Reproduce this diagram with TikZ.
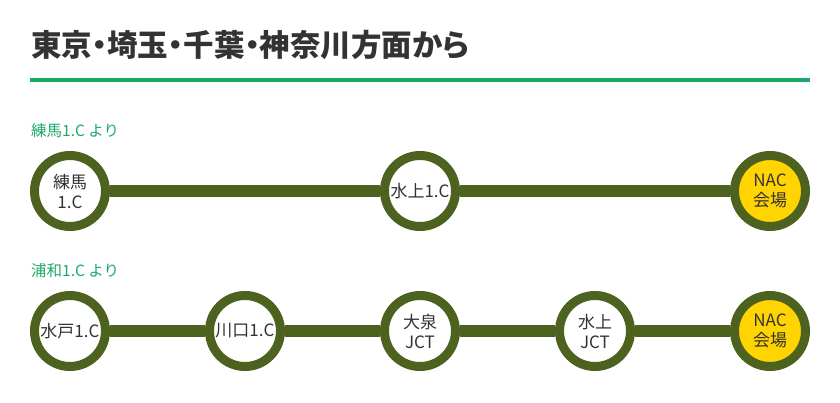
\documentclass[tikz,border=0pt]{standalone}
\usepackage{fontspec}
\setmainfont{Noto Sans CJK JP}
\newfontfamily\headfont{Noto Sans CJK JP}[RawFeature=+palt]
\definecolor{routeline}{HTML}{4E6220}
\definecolor{goalfill}{HTML}{FFD400}
\definecolor{accent}{HTML}{1DA86A}
\definecolor{ink}{HTML}{333333}
\tikzset{
  stop/.style={circle, draw=routeline, line width=9pt, fill=white,
    minimum size=71pt, inner sep=0pt, align=center, text=ink,
    font=\fontsize{17}{20}\selectfont},
  goal/.style={stop, fill=goalfill},
  route/.style={draw=routeline, line width=12pt},
  sublabel/.style={anchor=west, text=accent, inner sep=0pt,
    font=\fontsize{15.5}{17}\selectfont},
}
\begin{document}
\begin{tikzpicture}[x=1pt,y=-1pt]
  \useasboundingbox (0,0) rectangle (840,402);
  % heading and rule
  \node[anchor=west, inner sep=0pt, text=ink, font=\headfont\bfseries\fontsize{30.5}{33}\selectfont] (title) at (31,45) {東京・埼玉・千葉・神奈川方面から};
  \draw[accent, line width=4pt] (30,80) coordinate (ruleL) -- (810,80) coordinate (ruleR);

  % route from Nerima
  \node[sublabel] (lab1) at (31,131) {練馬1.C より};
  \node[stop] (n1) at (70,191) {練馬\\1.C};
  \node[stop] (n2) at (420,191) {水上1.C};
  \node[goal] (n3) at (770,191) {NAC\\会場};
  \draw[route] (n1) -- (n2);
  \draw[route] (n2) -- (n3);

  % route from Urawa
  \node[sublabel] (lab2) at (31,271) {浦和1.C より};
  \node[stop] (m1) at (70,331) {水戸1.C};
  \node[stop] (m2) at (245,331) {川口1.C};
  \node[stop] (m3) at (420,331) {大泉\\JCT};
  \node[stop] (m4) at (595,331) {水上\\JCT};
  \node[goal] (m5) at (770,331) {NAC\\会場};
  \draw[route] (m1) -- (m2);
  \draw[route] (m2) -- (m3);
  \draw[route] (m3) -- (m4);
  \draw[route] (m4) -- (m5);
\end{tikzpicture}
\end{document}
